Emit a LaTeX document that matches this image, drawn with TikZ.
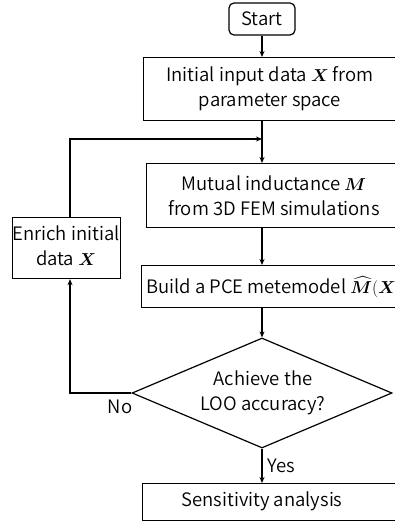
\documentclass[tikz,border=0pt]{standalone}
\usepackage{amsmath,bm}
\usepackage{fontspec}
\setmainfont{Noto Sans CJK SC}[UprightFont={* DemiLight}]
\usetikzlibrary{shapes.geometric,arrows.meta}
\tikzset{
  box/.style={draw, line width=1.2pt, rectangle, inner sep=0pt, anchor=north west},
  startbox/.style={draw, line width=1.2pt, rectangle, rounded corners=5pt, minimum width=66pt, minimum height=32pt, inner sep=0pt},
  decbox/.style={draw, line width=1.2pt, diamond, inner sep=0pt, minimum width=260pt, minimum height=110pt},
  txt/.style={align=center, inner sep=0pt},
  arr/.style={line width=1.2pt, -{Stealth[length=6pt,width=5pt]}},
  ln/.style={line width=1.2pt}
}
\begin{document}
\begin{tikzpicture}[x=1pt,y=-1pt,font=\fontsize{18.5}{25}\selectfont]
\useasboundingbox (0,0) rectangle (395,521);
\clip (0,0) rectangle (395,521);
\node[startbox] (start) at (262,19) {Start};
\node[box, minimum width=262pt, minimum height=63pt] (init) at (143,57) {};
\node[txt] (initT) at (270,89) {Initial input data $\bm{X}$ from\\parameter space};
\node[box, minimum width=262pt, minimum height=64pt] (mut) at (146,163) {};
\node[txt] (mutT) at (274,196) {Mutual inductance $\bm{M}$\\from 3D FEM simulations};
\node[box, minimum width=280pt, minimum height=42pt] (build) at (141,265) {};
\node[txt, anchor=west] (buildT) at (146,287) {Build a PCE metemodel $\widehat{\bm{M}}(\bm{X})$};
\node[decbox] (dec) at (262,393) {};
\node[txt] (decT) at (263,393) {Achieve the\\LOO accuracy?};
\node[box, minimum width=260pt, minimum height=37pt] (sens) at (142,483) {};
\node[txt] (sensT) at (262,501) {Sensitivity analysis};
\node[box, minimum width=108pt, minimum height=61pt] (enr) at (12,217) {};
\node[txt] (enrT) at (66,246) {Enrich initial\\data $\bm{X}$};
\node[txt] (no) at (120,407) {No};
\coordinate (ltop) at (70,139);
\draw[arr] (start.south) -- (init.north -| start.south);
\draw[arr] (init.south -| start.south) -- (mut.north -| start.south);
\draw[arr] (mut.south -| start.south) -- (build.north -| start.south);
\draw[arr] (build.south -| start.south) -- (dec.north);
\draw[arr] (dec.south) -- (sens.north -| dec.south) node[txt, midway, right=5pt] (yes) {Yes};
\draw[arr] (dec.west) -- (dec.west -| ltop) -- (enr.south -| ltop);
\draw[arr] (enr.north -| ltop) -- (ltop) -- (ltop -| start.south);
\end{tikzpicture}
\end{document}
